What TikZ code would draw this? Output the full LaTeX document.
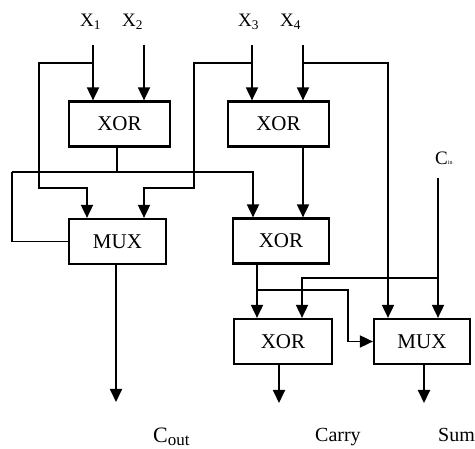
\documentclass[tikz,border=0pt]{standalone}
\usepackage{fontspec}
\setmainfont{Liberation Serif}
\usetikzlibrary{arrows.meta}
\begin{document}
\begin{tikzpicture}[x=1pt,y=-1pt,
  gate/.style={draw,line width=2.2pt,minimum height=45pt,inner sep=0pt,font=\fontsize{21}{23}\selectfont},
  wire/.style={line width=1.8pt},
  arr/.style={wire,-{Triangle[width=12pt,length=13pt]}},
  lbl/.style={anchor=base west,inner sep=0pt,font=\fontsize{19}{20}\selectfont},
  olbl/.style={anchor=base west,inner sep=0pt,font=\fontsize{20}{22}\selectfont}
]
\useasboundingbox (0,0) rectangle (475,449);
% gates
\node[gate,minimum width=101pt] (xor1) at (119.5,124) {XOR};
\node[gate,minimum width=101pt] (xor2) at (278.5,124) {XOR};
\node[gate,minimum width=97pt] (mux1) at (117.5,241.5) {MUX};
\node[gate,minimum width=96pt] (xor3) at (281,241) {XOR};
\node[gate,minimum width=98pt] (xor4) at (283,341.5) {XOR};
\node[gate,minimum width=96pt] (mux2) at (422,341.5) {MUX};
% labels
\node[lbl] (lx1) at (80,27) {X\textsubscript{1}};
\node[lbl] (lx2) at (122,27) {X\textsubscript{2}};
\node[lbl] (lx3) at (238,27) {X\textsubscript{3}};
\node[lbl] (lx4) at (280,27) {X\textsubscript{4}};
\node[lbl] (lcin) at (435,165) {C{\fontsize{6}{6}\selectfont in}};
\node[olbl] (lcout) at (153,443) {{\fontsize{22}{24}\selectfont C}\raisebox{-3pt}{\fontsize{17}{17}\selectfont out}};
\node[olbl] (lcarry) at (315,442) {Carry};
\node[olbl] (lsum) at (438,442) {Sum};
% free ends
\coordinate (i1) at (93,45);
\coordinate (i2) at (144,45);
\coordinate (i3) at (252,45);
\coordinate (i4) at (303,45);
\coordinate (ci) at (438,178);
\coordinate (o1) at (116,402);
\coordinate (o2) at (279,403);
\coordinate (o3) at (424,403);
\coordinate (j1) at (117,172);
\coordinate (j3) at (257,290);
% inputs
\draw[arr] (i1) -- (i1 |- xor1.north);
\draw[arr] (i2) -- (i2 |- xor1.north);
\draw[arr] (i3) -- (i3 |- xor2.north);
\draw[arr] (i4) -- (i4 |- xor2.north);
% branches from inputs
\draw[arr] (i1 |- 0,63) -| (39,188) -| ([xshift=-30.5pt]mux1.north);
\draw[arr] (i3 |- 0,63) -| (194,188) -| ([xshift=26.5pt]mux1.north);
\draw[arr] (i4 |- 0,63) -| ([xshift=-34pt]mux2.north);
% xor1 output
\draw[wire] (xor1.south -| j1) -- (j1);
\draw[arr] (12,172) -- (253,172) -- ([xshift=-28pt]xor3.north);
\draw[wire] (12,172) |- (mux1.west);
% xor2 output
\draw[arr] ([xshift=24.5pt]xor2.south) -- ([xshift=22pt]xor3.north);
% carry in
\draw[arr] (ci) -- (ci |- mux2.north);
\draw[arr] (ci |- 0,278) -| ([xshift=19pt]xor4.north);
% xor3 output
\draw[arr] (xor3.south -| j3) -- (j3 |- xor4.north);
\draw[arr] (j3) -| ([xshift=-25pt]mux2.west) -- (mux2.west);
% outputs
\draw[arr] (mux1.south -| o1) -- (o1);
\draw[arr] (xor4.south -| o2) -- (o2);
\draw[arr] (mux2.south -| o3) -- (o3);
\end{tikzpicture}
\end{document}
